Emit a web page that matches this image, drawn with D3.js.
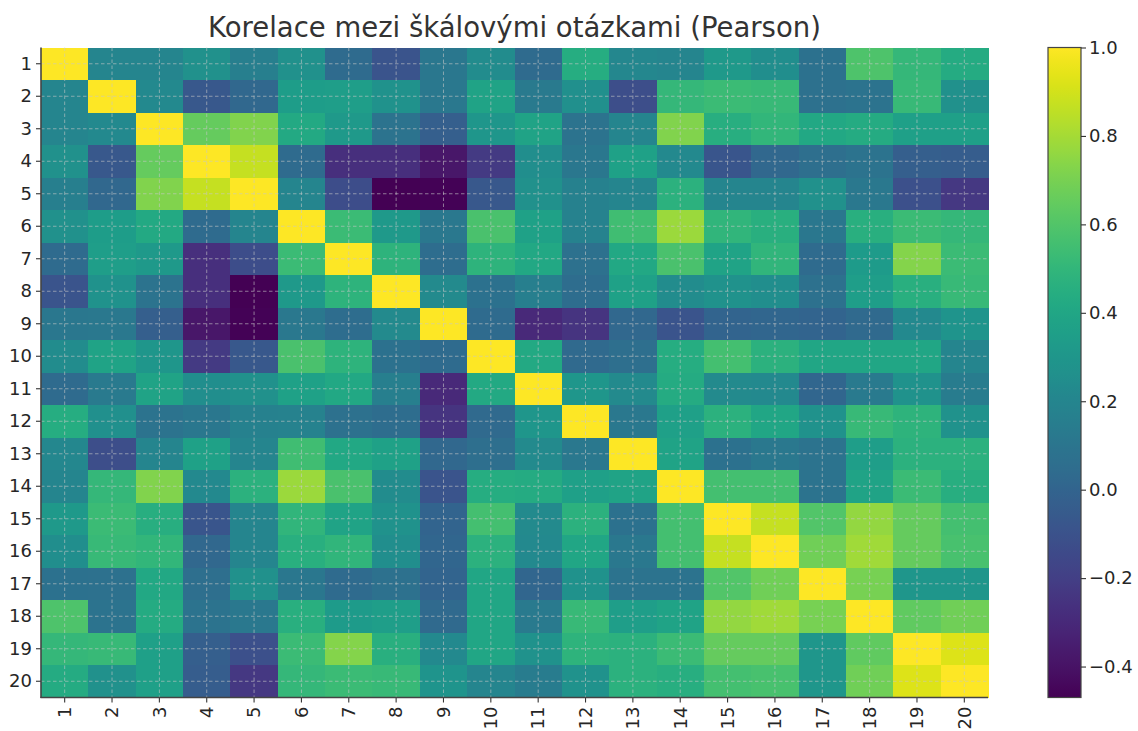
<!DOCTYPE html>
<html>
<head>
<meta charset="utf-8">
<script src="https://cdn.jsdelivr.net/npm/d3@7"></script>
<style>
  html, body { margin: 0; padding: 0; background: #ffffff; }
  svg { display: block; font-family: "DejaVu Sans", sans-serif; }
</style>
</head>
<body>
<svg id="chart" width="1138" height="731"></svg>
<script>
// Question labels (rows and columns share them)
const questions = ["1","2","3","4","5","6","7","8","9","10","11","12","13","14","15","16","17","18","19","20"];

// Pearson correlation matrix between the scale questions
const corr = [
  [1, 0.20, 0.20, 0.27, 0.16, 0.27, 0.04, -0.09, 0.11, 0.24, 0.04, 0.44, 0.21, 0.20, 0.32, 0.25, 0.08, 0.59, 0.51, 0.43],
  [0.20, 1, 0.22, -0.07, 0.02, 0.34, 0.35, 0.28, 0.12, 0.38, 0.13, 0.26, -0.12, 0.51, 0.53, 0.52, 0.07, 0.09, 0.52, 0.27],
  [0.20, 0.22, 1, 0.65, 0.72, 0.42, 0.32, 0.09, -0.03, 0.30, 0.38, 0.09, 0.20, 0.72, 0.45, 0.50, 0.41, 0.43, 0.36, 0.36],
  [0.27, -0.07, 0.65, 1, 0.87, 0.04, -0.27, -0.27, -0.38, -0.22, 0.25, 0.11, 0.37, 0.22, -0.08, 0.02, 0.06, 0.09, -0.03, -0.04],
  [0.16, 0.02, 0.72, 0.87, 1, 0.20, -0.13, -0.47, -0.46, -0.07, 0.27, 0.17, 0.20, 0.47, 0.20, 0.20, 0.27, 0.12, -0.11, -0.23],
  [0.27, 0.34, 0.42, 0.04, 0.20, 1, 0.53, 0.32, 0.12, 0.58, 0.37, 0.18, 0.55, 0.78, 0.49, 0.46, 0.11, 0.46, 0.53, 0.51],
  [0.04, 0.35, 0.32, -0.27, -0.13, 0.53, 1, 0.48, 0.05, 0.48, 0.41, 0.07, 0.41, 0.58, 0.38, 0.49, 0.04, 0.33, 0.73, 0.53],
  [-0.09, 0.28, 0.09, -0.27, -0.47, 0.32, 0.48, 1, 0.23, 0.08, 0.16, 0.05, 0.37, 0.24, 0.28, 0.25, 0.07, 0.35, 0.46, 0.52],
  [0.11, 0.12, -0.03, -0.38, -0.46, 0.12, 0.05, 0.23, 1, 0.04, -0.30, -0.25, 0.02, -0.09, 0.00, 0.01, 0.00, 0.03, 0.22, 0.29],
  [0.24, 0.38, 0.30, -0.22, -0.07, 0.58, 0.48, 0.08, 0.04, 1, 0.42, 0.03, 0.06, 0.44, 0.56, 0.47, 0.40, 0.40, 0.40, 0.20],
  [0.04, 0.13, 0.38, 0.25, 0.27, 0.37, 0.41, 0.16, -0.30, 0.42, 1, 0.30, 0.23, 0.43, 0.23, 0.22, 0.01, 0.13, 0.28, 0.14],
  [0.44, 0.26, 0.09, 0.11, 0.17, 0.18, 0.07, 0.05, -0.25, 0.03, 0.30, 1, 0.12, 0.36, 0.47, 0.40, 0.28, 0.52, 0.48, 0.28],
  [0.21, -0.12, 0.20, 0.37, 0.20, 0.55, 0.41, 0.37, 0.02, 0.06, 0.23, 0.12, 1, 0.38, 0.08, 0.12, 0.09, 0.35, 0.47, 0.47],
  [0.20, 0.51, 0.72, 0.22, 0.47, 0.78, 0.58, 0.24, -0.09, 0.44, 0.43, 0.36, 0.38, 1, 0.56, 0.56, 0.09, 0.38, 0.53, 0.45],
  [0.32, 0.53, 0.45, -0.08, 0.20, 0.49, 0.38, 0.28, 0.00, 0.56, 0.23, 0.47, 0.08, 0.56, 1, 0.87, 0.60, 0.76, 0.65, 0.56],
  [0.25, 0.52, 0.50, 0.02, 0.20, 0.46, 0.49, 0.25, 0.01, 0.47, 0.22, 0.40, 0.12, 0.56, 0.87, 1, 0.68, 0.79, 0.65, 0.57],
  [0.08, 0.07, 0.41, 0.06, 0.27, 0.11, 0.04, 0.07, 0.00, 0.40, 0.01, 0.28, 0.09, 0.09, 0.60, 0.68, 1, 0.70, 0.30, 0.30],
  [0.59, 0.09, 0.43, 0.09, 0.12, 0.46, 0.33, 0.35, 0.03, 0.40, 0.13, 0.52, 0.35, 0.38, 0.76, 0.79, 0.70, 1, 0.64, 0.68],
  [0.51, 0.52, 0.36, -0.03, -0.11, 0.53, 0.73, 0.46, 0.22, 0.40, 0.28, 0.48, 0.47, 0.53, 0.65, 0.65, 0.30, 0.64, 1, 0.92],
  [0.43, 0.27, 0.36, -0.04, -0.23, 0.51, 0.53, 0.52, 0.29, 0.20, 0.14, 0.28, 0.47, 0.45, 0.56, 0.57, 0.30, 0.68, 0.92, 1]
];

// Colorbar tick values
const colorbarTicks = [-0.4, -0.2, 0.0, 0.2, 0.4, 0.6, 0.8, 1.0];

const titleText = "Korelace mezi škálovými otázkami (Pearson)";

const svg = d3.select("#chart");
const plot = { left: 41, right: 988, top: 47.5, bottom: 697.5 };
const cbar = { left: 1048, right: 1081, top: 47.5, bottom: 697.5 };
const textColor = "#262626";
const tickFont = "18px";

const cells = [];
corr.forEach((row, i) => row.forEach((v, j) => cells.push({ r: questions[i], c: questions[j], v })));

const vmin = d3.min(cells, d => d.v);
const vmax = d3.max(cells, d => d.v);
const color = d3.scaleSequential(d3.interpolateViridis).domain([vmin, vmax]);

const x = d3.scaleBand().domain(questions).range([plot.left, plot.right]);
const y = d3.scaleBand().domain(questions).range([plot.top, plot.bottom]);

// Heatmap cells
svg.append("g")
  .selectAll("rect")
  .data(cells)
  .join("rect")
  .attr("x", d => x(d.c))
  .attr("y", d => y(d.r))
  .attr("width", x.bandwidth() + 0.5)
  .attr("height", y.bandwidth() + 0.5)
  .attr("fill", d => color(d.v))
  .attr("shape-rendering", "crispEdges");

// Dashed grid through the cell centres
const grid = svg.append("g")
  .attr("stroke", "#c8c8c8")
  .attr("stroke-opacity", 0.75)
  .attr("stroke-width", 0.8)
  .attr("stroke-dasharray", "3.5,2.5");
grid.selectAll("line.v")
  .data(questions)
  .join("line")
  .attr("class", "v")
  .attr("x1", d => x(d) + x.bandwidth() / 2)
  .attr("x2", d => x(d) + x.bandwidth() / 2)
  .attr("y1", plot.top)
  .attr("y2", plot.bottom);
grid.selectAll("line.h")
  .data(questions)
  .join("line")
  .attr("class", "h")
  .attr("y1", d => y(d) + y.bandwidth() / 2)
  .attr("y2", d => y(d) + y.bandwidth() / 2)
  .attr("x1", plot.left)
  .attr("x2", plot.right);

// Axes
const xAxis = svg.append("g")
  .attr("transform", `translate(0,${plot.bottom})`)
  .call(d3.axisBottom(x).tickSize(5).tickPadding(4));
// Vertical labels, reading bottom to top, hanging below the ticks
xAxis.selectAll("text")
  .attr("x", 0)
  .attr("y", 0)
  .attr("dx", 0)
  .attr("dy", "0.35em")
  .attr("text-anchor", "end")
  .attr("transform", "translate(0,9) rotate(-90)")
  .style("font-size", tickFont);

const yAxis = svg.append("g")
  .attr("transform", `translate(${plot.left},0)`)
  .call(d3.axisLeft(y).tickSize(5).tickPadding(4));
yAxis.selectAll("text").style("font-size", tickFont);

[xAxis, yAxis].forEach(a => {
  a.select(".domain").remove();
  a.selectAll(".tick line").attr("stroke", "#333333").attr("stroke-width", 1.1);
  a.selectAll(".tick text").attr("fill", textColor).style("font-family", "DejaVu Sans, sans-serif");
});

// Left and bottom spines
svg.append("line")
  .attr("x1", plot.left).attr("x2", plot.left)
  .attr("y1", plot.top).attr("y2", plot.bottom + 0.5)
  .attr("stroke", "#444444").attr("stroke-width", 1.6);
svg.append("line")
  .attr("x1", plot.left - 0.5).attr("x2", plot.right)
  .attr("y1", plot.bottom).attr("y2", plot.bottom)
  .attr("stroke", "#444444").attr("stroke-width", 1.6);

// Colorbar
const cScale = d3.scaleLinear().domain([vmin, vmax]).range([cbar.bottom, cbar.top]);
const defs = svg.append("defs");
const grad = defs.append("linearGradient")
  .attr("id", "viridis-bar")
  .attr("x1", "0").attr("x2", "0").attr("y1", "1").attr("y2", "0");
d3.range(0, 1.0001, 0.02).forEach(t => {
  grad.append("stop")
    .attr("offset", t)
    .attr("stop-color", color(vmin + t * (vmax - vmin)));
});
svg.append("rect")
  .attr("x", cbar.left)
  .attr("y", cbar.top)
  .attr("width", cbar.right - cbar.left)
  .attr("height", cbar.bottom - cbar.top)
  .attr("fill", "url(#viridis-bar)")
  .attr("stroke", "#444444")
  .attr("stroke-width", 1.2);

const cAxis = svg.append("g")
  .attr("transform", `translate(${cbar.right},0)`)
  .call(d3.axisRight(cScale)
    .tickValues(colorbarTicks)
    .tickSize(5)
    .tickPadding(3)
    .tickFormat(d => d3.format(".1f")(d).replace("-", "\u2212")));
cAxis.select(".domain").remove();
cAxis.selectAll(".tick line").attr("stroke", "#333333").attr("stroke-width", 1.1);
cAxis.selectAll(".tick text")
  .attr("fill", textColor)
  .style("font-size", tickFont)
  .style("font-family", "DejaVu Sans, sans-serif");

// Title
svg.append("text")
  .attr("x", (plot.left + plot.right) / 2)
  .attr("y", 37)
  .attr("text-anchor", "middle")
  .attr("fill", "#333333")
  .style("font-size", "27.5px")
  .text(titleText);
</script>
</body>
</html>
